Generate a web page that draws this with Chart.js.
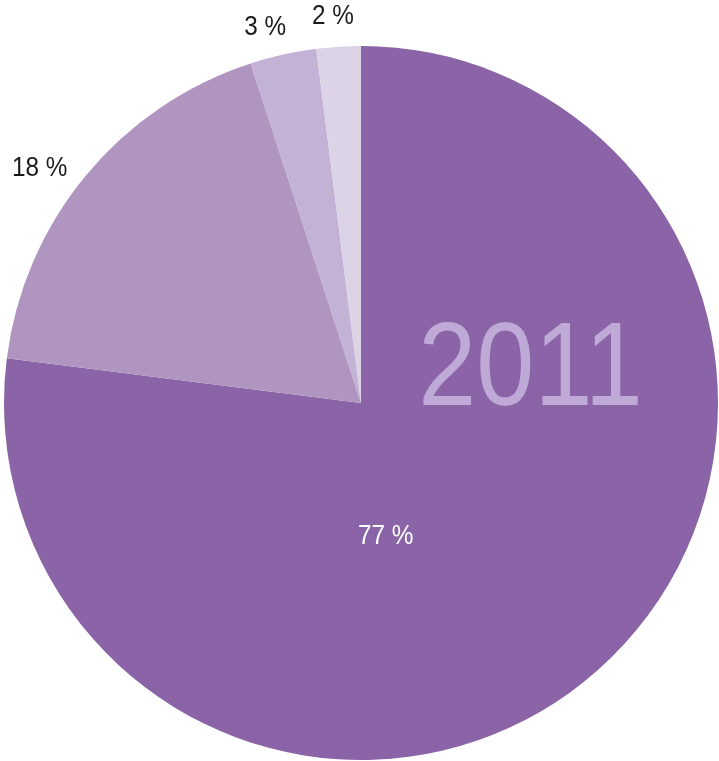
<!DOCTYPE html>
<html>
<head>
<meta charset="utf-8">
<script src="https://cdn.jsdelivr.net/npm/chart.js@4"></script>
<style>
  html, body { margin: 0; padding: 0; background: #fff; }
  #wrap { width: 719px; height: 761px; }
</style>
</head>
<body>
<div id="wrap"><canvas id="pieChart"></canvas></div>
<script>
var categories = ['A', 'B', 'C', 'D'];
var shares = [77, 18, 3, 2];
var sliceLabels = ['77 %', '18 %', '3 %', '2 %'];
var yearLabel = '2011';

var sliceColors = ['#8a64a6', '#b095c0', '#c4b2d6', '#ddd3e6'];

// where each label sits: angle shift (radians) and distance as share of radius
var labelPlacement = [
    { shift: 0.54, dist: 0.38, color: '#ffffff' },
    { shift: -0.06, dist: 1.115, color: '#1a1a1a' },
    { shift: -0.03, dist: 1.085, color: '#1a1a1a' },
    { shift: -0.01, dist: 1.085, color: '#1a1a1a' }
];

// draw text squeezed horizontally (the original uses a condensed face)
function narrowText(ctx, text, x, y, squeeze) {
    ctx.save();
    ctx.translate(x, y);
    ctx.scale(squeeze, 1);
    ctx.fillText(text, 0, 0);
    ctx.restore();
}

var labelPlugin = {
    id: 'sliceLabels',
    afterDatasetsDraw: function(chart) {
        var ctx = chart.ctx;
        var arcs = chart.getDatasetMeta(0).data;
        ctx.save();
        ctx.textAlign = 'center';
        ctx.textBaseline = 'middle';
        ctx.font = '27px "Liberation Sans", sans-serif';
        arcs.forEach(function(arc, i) {
            var p = labelPlacement[i];
            var mid = (arc.startAngle + arc.endAngle) / 2 + p.shift;
            var r = arc.outerRadius * p.dist;
            ctx.fillStyle = p.color;
            narrowText(ctx, sliceLabels[i], arc.x + Math.cos(mid) * r, arc.y + Math.sin(mid) * r, 0.9);
        });
        // big year label inside the main slice
        var a = chart.chartArea;
        var cx = (a.left + a.right) / 2, cy = (a.top + a.bottom) / 2;
        var R = (a.right - a.left) / 2;
        ctx.fillStyle = '#bfa9d6';
        ctx.font = '118px "Liberation Sans", sans-serif';
        ctx.textBaseline = 'alphabetic';
        narrowText(ctx, yearLabel, cx + R * 0.475, cy + 2, 0.885);
        ctx.restore();
    }
};

var ctxPie = document.getElementById('pieChart').getContext('2d');
var pieChart = new Chart(ctxPie, {
    type: 'pie',
    data: {
        labels: categories,
        datasets: [{
            data: shares,
            backgroundColor: sliceColors,
            borderWidth: 0
        }]
    },
    options: {
        responsive: true,
        maintainAspectRatio: false,
        animation: false,
        layout: { padding: { top: 46, left: 4, right: 1, bottom: 1 } },
        plugins: {
            legend: { display: false },
            tooltip: { enabled: false }
        }
    },
    plugins: [labelPlugin]
});
</script>
</body>
</html>
